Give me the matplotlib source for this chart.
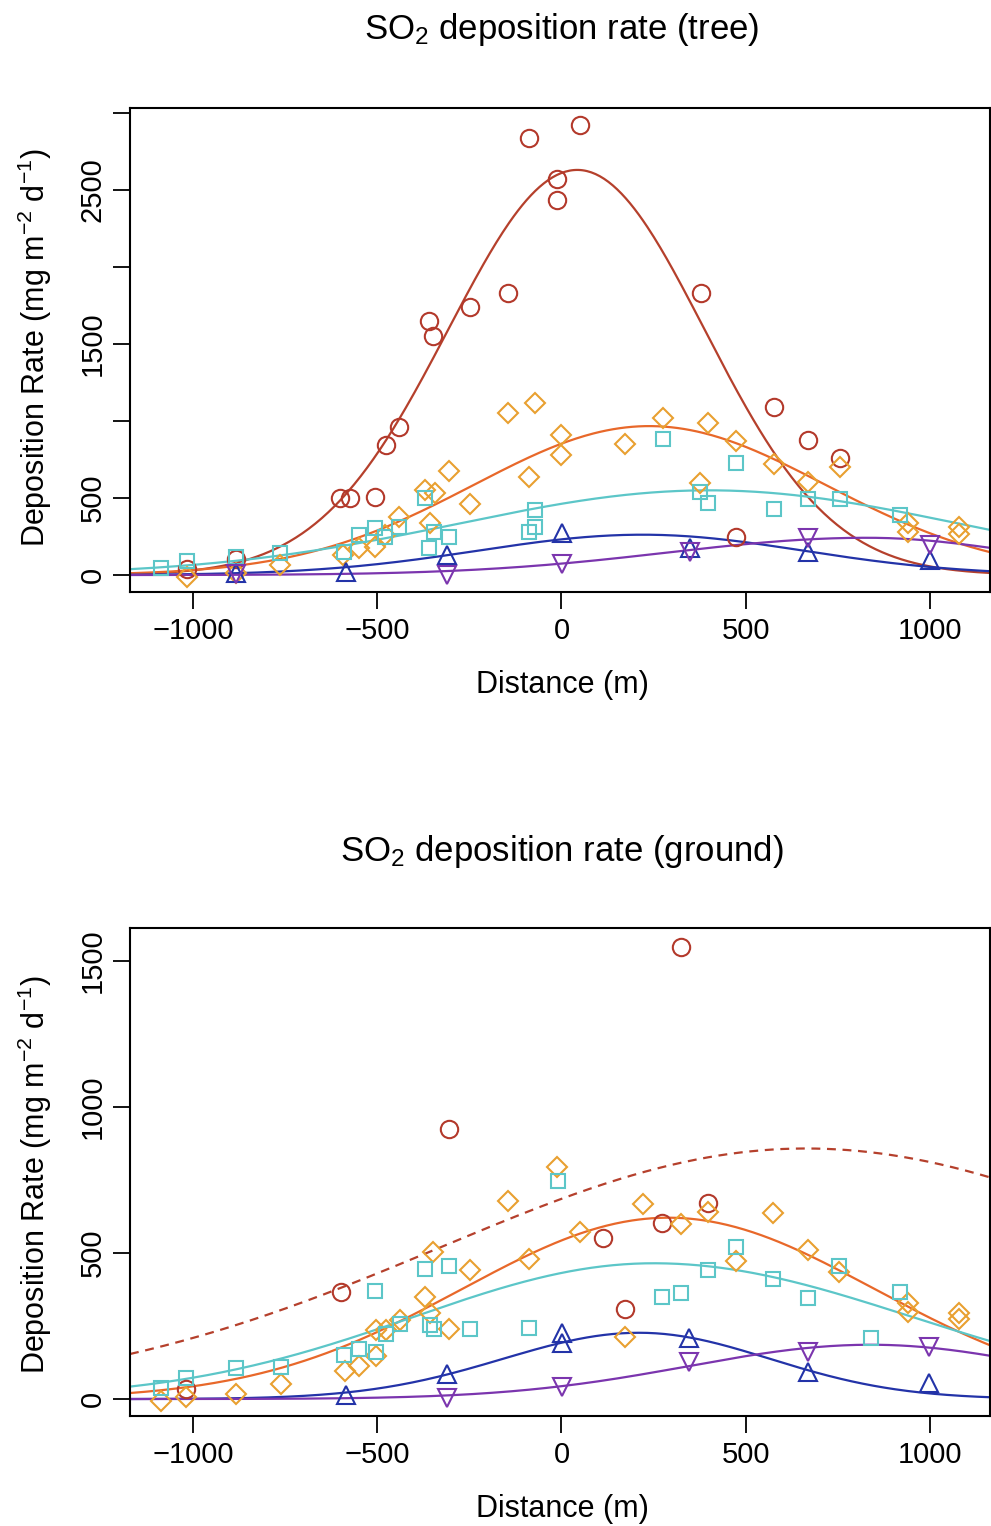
import numpy as np
import matplotlib
matplotlib.use("Agg")
import matplotlib.pyplot as plt

plt.rcParams['font.family'] = ['Liberation Sans', 'DejaVu Sans']
plt.rcParams['mathtext.fontset'] = 'custom'
plt.rcParams['mathtext.rm'] = 'Liberation Sans'
plt.rcParams['mathtext.it'] = 'Liberation Sans:italic'

# colours
c_red = '#b3392b'
c_redline = '#b5402c'
c_orange = '#e9a030'
c_orangeline = '#e8682a'
c_cyan = '#5cc6c8'
c_blue = '#2333a8'
c_purple = '#7b35ae'

# ---- tree panel: measured points (distance m, rate) ----
tree_red_x = [-1017, -882, -600, -573, -505, -477, -442, -360, -349, -249, -146, -89, -11, -11, 49, 378, 473, 577, 670, 756]
tree_red_y = [39, 104, 500, 500, 506, 844, 961, 1649, 1552, 1740, 1831, 2838, 2571, 2435, 2922, 1833, 246, 1090, 877, 762]

tree_orange_x = [-1017, -882, -764, -593, -549, -505, -480, -441, -371, -358, -344, -306, -249, -145, -87, -73, 0, 0,
                 173, 275, 377, 398, 475, 577, 670, 756, 941, 941, 1080, 1080]
tree_orange_y = [-13, 13, 65, 130, 175, 184, 260, 379, 552, 337, 532, 677, 461, 1050, 638, 1115, 909, 779,
                 851, 1017, 600, 989, 872, 719, 606, 703, 336, 281, 314, 264]

tree_cyan_x = [-1088, -1017, -882, -764, -590, -549, -507, -480, -441, -371, -360, -347, -306, -89, -73, -73,
               275, 377, 398, 473, 577, 670, 756, 920]
tree_cyan_y = [43, 91, 119, 141, 151, 260, 303, 249, 314, 498, 177, 281, 249, 281, 314, 422,
               881, 541, 465, 725, 426, 491, 491, 390]

tree_blue_x = [-882, -585, -311, 1, 350, 670, 999]
tree_blue_y = [15, 21, 130, 275, 173, 151, 97]

tree_purple_x = [-882, -311, 1, 350, 670, 999]
tree_purple_y = [5, 0, 71, 151, 238, 195]

# fitted curves: amplitude, centre, left sigma, right sigma
tree_fits = {
    'red':    (2630, 43, 350, 345),
    'orange': (967, 238, 475, 478),
    'cyan':   (550, 400, 680, 680),
    'blue':   (262, 220, 445, 435),
    'purple': (242, 830, 540, 420),
}

# ---- ground panel ----
gr_red_x = [-1019, -599, -305, 112, 173, 273, 324, 398]
gr_red_y = [33, 367, 924, 550, 308, 604, 1547, 670]

gr_orange_x = [-1087, -1019, -882, -762, -588, -549, -504, -504, -477, -439, -371, -358, -349, -305, -247, -144, -87, -11,
               49, 173, 220, 324, 398, 473, 575, 670, 753, 940, 940, 1080, 1080]
gr_orange_y = [-6, 6, 16, 50, 97, 114, 147, 236, 236, 271, 350, 296, 505, 239, 442, 678, 478, 796,
               571, 213, 668, 598, 641, 474, 636, 510, 436, 328, 299, 296, 274]

gr_cyan_x = [-1087, -1019, -882, -762, -590, -549, -507, -504, -477, -439, -371, -358, -347, -306, -247, -87, -10,
             273, 324, 398, 473, 575, 670, 753, 839, 920]
gr_cyan_y = [37, 71, 108, 111, 151, 171, 371, 160, 222, 256, 444, 253, 239, 455, 239, 242, 747,
             348, 362, 442, 522, 411, 345, 455, 208, 367]

gr_blue_x = [-585, -311, 1, 1, 347, 670, 997]
gr_blue_y = [14, 85, 225, 191, 208, 94, 54]

gr_purple_x = [-311, 1, 347, 670, 997]
gr_purple_y = [2, 42, 128, 160, 179]

gr_fits = {
    'red':    (858, 663, 990, 1010),
    'orange': (621, 290, 560, 560),
    'cyan':   (465, 250, 650, 700),
    'blue':   (227, 211, 370, 355),
    'purple': (186, 840, 495, 480),
}

xlim = (-1171, 1163)


def fit_curve(x, p):
    a, c, sl, sr = p
    s = np.where(x < c, sl, sr)
    return a * np.exp(-(x - c) ** 2 / (2 * s ** 2))


def draw_panel(ax, pts, fits, red_dashed):
    xs = np.linspace(xlim[0], xlim[1], 400)
    ax.plot(xs, fit_curve(xs, fits['red']), color=c_redline, lw=1.6,
            ls=(0, (4, 3)) if red_dashed else '-')
    ax.plot(xs, fit_curve(xs, fits['orange']), color=c_orangeline, lw=1.6)
    ax.plot(xs, fit_curve(xs, fits['cyan']), color=c_cyan, lw=1.6)
    ax.plot(xs, fit_curve(xs, fits['blue']), color=c_blue, lw=1.6)
    ax.plot(xs, fit_curve(xs, fits['purple']), color=c_purple, lw=1.6)

    styles = [('o', c_red, 12.5), ('D', c_orange, 10.5), ('s', c_cyan, 10.5), ('^', c_blue, 12.5), ('v', c_purple, 12.5)]
    for (px, py), (m, col, ms) in zip(pts, styles):
        ax.plot(px, py, ls='none', marker=m, ms=ms, mfc='none', mec=col, mew=1.5)

    ax.set_xlim(xlim)
    ax.set_xticks([-1000, -500, 0, 500, 1000])
    ax.set_xticklabels(['\u22121000', '\u2212500', '0', '500', '1000'])
    for sp in ax.spines.values():
        sp.set_linewidth(1.5)
    ax.tick_params(axis='both', length=12, width=1.3, labelsize=21, direction='out')
    ax.tick_params(axis='x', pad=6)
    ax.tick_params(axis='y', pad=5)


fig = plt.figure(figsize=(9.91, 15.26), dpi=100)

ax1 = fig.add_axes([130 / 991, 1 - 592 / 1526, 860 / 991, 484 / 1526])
draw_panel(ax1, [(tree_red_x, tree_red_y), (tree_orange_x, tree_orange_y), (tree_cyan_x, tree_cyan_y),
                 (tree_blue_x, tree_blue_y), (tree_purple_x, tree_purple_y)], tree_fits, False)
ax1.set_ylim(-110, 3032)
ax1.set_yticks([0, 500, 1000, 1500, 2000, 2500, 3000])
ax1.set_yticklabels(['0', '500', '', '1500', '', '2500', ''])
for lab in ax1.get_yticklabels():
    lab.set_rotation(90)
    lab.set_va('center')

ax2 = fig.add_axes([130 / 991, 1 - 1416 / 1526, 860 / 991, 488 / 1526])
draw_panel(ax2, [(gr_red_x, gr_red_y), (gr_orange_x, gr_orange_y), (gr_cyan_x, gr_cyan_y),
                 (gr_blue_x, gr_blue_y), (gr_purple_x, gr_purple_y)], gr_fits, True)
ax2.set_ylim(-58, 1613)
ax2.set_yticks([0, 500, 1000, 1500])
ax2.set_yticklabels(['0', '500', '1000', '1500'])
for lab in ax2.get_yticklabels():
    lab.set_rotation(90)
    lab.set_va('center')

ylab = 'Deposition Rate (mg m$^{-2}$ d$^{-1}$)'
fig.text(562 / 991, 1 - 30 / 1526, 'SO$_2$ deposition rate (tree)', ha='center', va='center', fontsize=25)
fig.text(562 / 991, 1 - 852 / 1526, 'SO$_2$ deposition rate (ground)', ha='center', va='center', fontsize=25)
fig.text(562 / 991, 1 - 685 / 1526, 'Distance (m)', ha='center', va='center', fontsize=22)
fig.text(562 / 991, 1 - 1509 / 1526, 'Distance (m)', ha='center', va='center', fontsize=22)
fig.text(35 / 991, 1 - 348 / 1526, ylab, rotation=90, ha='center', va='center', fontsize=22)
fig.text(35 / 991, 1 - 1175 / 1526, ylab, rotation=90, ha='center', va='center', fontsize=22)

fig.savefig('out.png', dpi=100)
